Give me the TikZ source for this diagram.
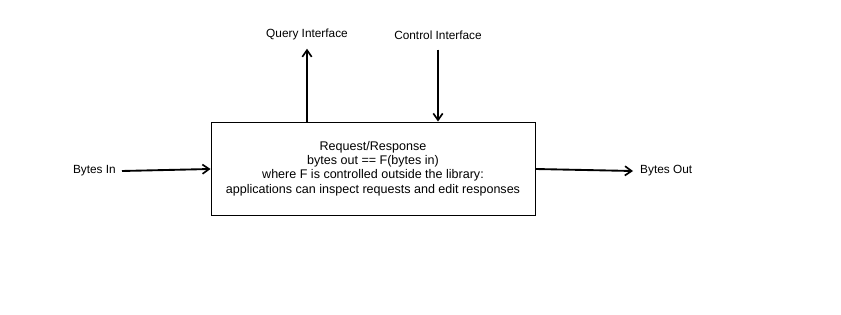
\documentclass[tikz,border=0pt]{standalone}
\usepackage{fontspec}
\setmainfont{Liberation Sans}
\usetikzlibrary{arrows.meta}

\tikzset{
    flow/.style={line width=1.6pt, -{Straight Barb[length=2mm,width=2.8mm,line width=1.4pt]}},
    lbl/.style={inner sep=0pt, font=\fontsize{10.1}{12}\selectfont},
}

\begin{document}
\begin{tikzpicture}[x=0.03cm, y=-0.03cm]
                \useasboundingbox (0,0) rectangle (841,315);

                % Nodes
                \node[draw, line width=0.8pt, minimum width=324*0.03cm, minimum height=93*0.03cm,
                      align=center, font=\fontsize{10.7}{12.1}\selectfont] (box) at (373,168.5)
                      {Request/Response\\bytes out == F(bytes in)\\where F is controlled outside the library:\\applications can inspect requests and edit responses};
                \node[lbl, anchor=east] (in) at (116,171) {Bytes In};
                \node[lbl, anchor=west] (out) at (640,171) {Bytes Out};
                \node[lbl] (query) at (307,34) {Query Interface};
                \node[lbl] (control) at (438,35) {Control Interface};

                % Edges
                \draw[flow] ([xshift=6*0.03cm]in.east) -- (box.west |- 0,169);
                \draw[flow] (box.east |- 0,169) -- ([xshift=-7*0.03cm]out.west);
                \draw[flow] (box.north -| query) -- ([yshift=-9*0.03cm]query.south);
                \draw[flow] ([yshift=-10*0.03cm]control.south) -- (box.north -| control);
            \end{tikzpicture}
\end{document}
